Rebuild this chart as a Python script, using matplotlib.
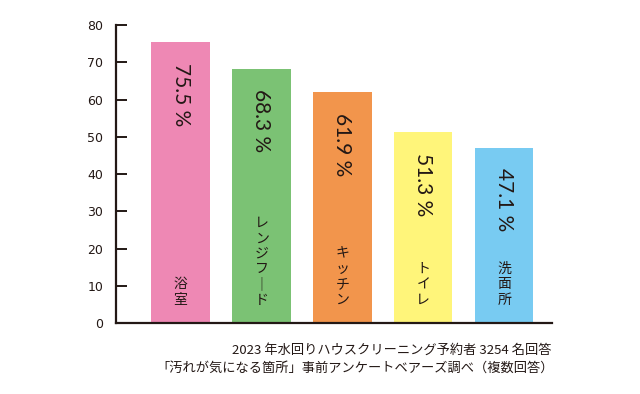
import matplotlib.pyplot as plt

plt.rcParams['font.family'] = ['Noto Sans CJK JP', 'DejaVu Sans']

categories = ['浴室', 'レンジフード', 'キッチン', 'トイレ', '洗面所']
values = [75.5, 68.3, 61.9, 51.3, 47.1]
labels = ['75.5 %', '68.3 %', '61.9 %', '51.3 %', '47.1 %']
colors = ['#EE88B4', '#7BC274', '#F2954C', '#FFF57A', '#78CBF2']
yticks = [0, 10, 20, 30, 40, 50, 60, 70, 80]
caption = ['2023 年水回りハウスクリーニング予約者 3254 名回答',
           '「汚れが気になる箇所」事前アンケートベアーズ調べ（複数回答）']

fig = plt.figure(figsize=(6.4, 3.94), dpi=100)
ax = fig.add_axes([0.181, 0.180, 0.6815, 0.7565])

x = list(range(len(values)))
ax.bar(x, values, width=0.72, color=colors, zorder=1)

ax.set_xlim(-0.80, 4.59)
ax.set_ylim(0, 80)
ax.set_yticks(yticks)
ax.set_xticks([])

for s in ['top', 'right']:
    ax.spines[s].set_visible(False)
for s in ['left', 'bottom']:
    ax.spines[s].set_color('#231815')
    ax.spines[s].set_linewidth(1.6)
    ax.spines[s].set_zorder(3)
ax.tick_params(axis='y', direction='in', length=8, width=1.4, color='#231815',
               pad=9, labelsize=9, labelcolor='#231815')
for t in ax.get_yticklabels():
    t.set_fontfamily(['DejaVu Sans'])

# value labels, rotated, near the bar top
for i, (v, lab) in enumerate(zip(values, labels)):
    ax.annotate(lab, (i, v), xytext=(0, -15), textcoords='offset points',
                rotation=-90, ha='center', va='top', fontsize=15,
                color='#231815', family=['Lato', 'DejaVu Sans'])

# category names, vertical text stacked at the bottom of each bar
for i, c in enumerate(categories):
    vert = '\n'.join(c.replace('ー', '｜'))
    ax.text(i, 4.4, vert, ha='center', va='bottom', fontsize=10,
            linespacing=1.12, color='#231815')

fig.text(0.862, 0.111, caption[0], ha='right', va='center', fontsize=9.5,
         color='#231815')
fig.text(0.866, 0.066, caption[1], ha='right', va='center', fontsize=9.5,
         color='#231815')

fig.savefig('out.png', dpi=100)
